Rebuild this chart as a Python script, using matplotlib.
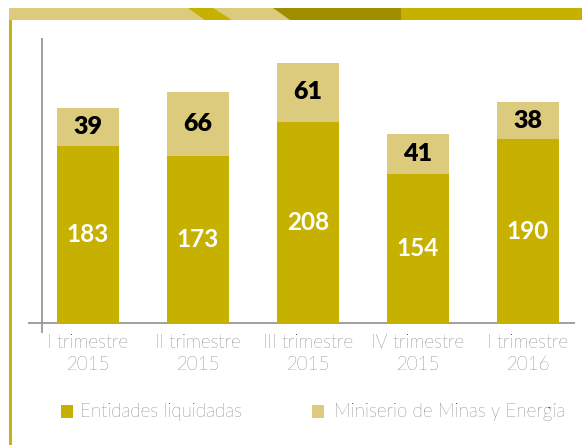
import matplotlib
matplotlib.use("Agg")
import matplotlib.pyplot as plt
from matplotlib.patches import Rectangle, Polygon

categories = ["I trimestre\n2015", "II trimestre\n2015", "III trimestre\n2015",
              "IV trimestre\n2015", "I trimestre\n2016"]
entidades = [183, 173, 208, 154, 190]
ministerio = [39, 66, 61, 41, 38]
series_names = ["Entidades liquidadas", "Miniserio de Minas y Energía"]

GOLD = "#C6B000"
LIGHT = "#DCCB7C"
OLIVE = "#9E8E00"
TXT = "#1c1c1c"

W, H = 582, 445
fig = plt.figure(figsize=(W / 100, H / 100), dpi=100)
plt.rcParams['font.family'] = ['Lato', 'DejaVu Sans']

def fx(px):
    return px / W

def fy(py):
    return 1 - py / H

# axes: x 28..575 px, y 38..333 px
ax = fig.add_axes([fx(28), fy(333), fx(575 - 28), (333 - 38) / H])
scale = 0.968  # px per unit
ax.set_ylim(-10 / scale, (323 - 38) / scale)
ax.set_xlim(-60 / 110, (575 - 88) / 110)
for s in ax.spines.values():
    s.set_visible(False)
ax.set_yticks([])

x = list(range(len(categories)))
w = 62 / 110
ax.bar(x, entidades, width=w, color=GOLD, label=series_names[0], zorder=2)
ax.bar(x, ministerio, width=w, bottom=entidades, color=LIGHT, label=series_names[1], zorder=2)

for xi, e, m in zip(x, entidades, ministerio):
    ax.text(xi, e / 2, str(e), ha="center", va="center", color="white",
            fontsize=17.5, fontweight="bold", zorder=3)
    ax.text(xi, e + m / 2, str(m), ha="center", va="center", color="black",
            fontsize=18, fontweight="heavy", zorder=3)

ax.axhline(0, color="#999999", lw=1.3, zorder=1)
ax.axvline(-46 / 110, color="#999999", lw=1.3, zorder=1)

ax.set_xticks(x)
ax.set_xticklabels(categories, fontsize=13.5, color=TXT, linespacing=1.25,
                   fontweight="light")
ax.tick_params(axis="x", length=0, pad=1)

# decorative top band
fig.add_artist(Rectangle((fx(9), fy(20)), fx(582 - 9), (20 - 8) / H,
                         transform=fig.transFigure, color=LIGHT, lw=0))
fig.add_artist(Polygon([(fx(188), fy(8)), (fx(213), fy(8)), (fx(232), fy(20)), (fx(205), fy(20))],
                       closed=True, transform=fig.transFigure, color=GOLD, lw=0))
fig.add_artist(Polygon([(fx(273), fy(8)), (fx(401), fy(8)), (fx(401), fy(20)), (fx(290), fy(20))],
                       closed=True, transform=fig.transFigure, color=OLIVE, lw=0))
fig.add_artist(Rectangle((fx(401), fy(20)), fx(582 - 401), (20 - 8) / H,
                         transform=fig.transFigure, color=GOLD, lw=0))
# left vertical line
fig.add_artist(Rectangle((fx(9.3), 0), fx(2.4), fy(20),
                         transform=fig.transFigure, color="#C8B40C", lw=0))

# legend
for (sx, tx, col, name) in [(61, 80, GOLD, series_names[0]), (312, 334, LIGHT, series_names[1])]:
    fig.add_artist(Rectangle((fx(sx), fy(418)), fx(12), 13 / H,
                             transform=fig.transFigure, color=col, lw=0))
    fig.text(fx(tx), fy(411.5), name, ha="left", va="center", fontsize=13.5,
             color=TXT, fontweight="light")

fig.savefig("out.png", dpi=100)
